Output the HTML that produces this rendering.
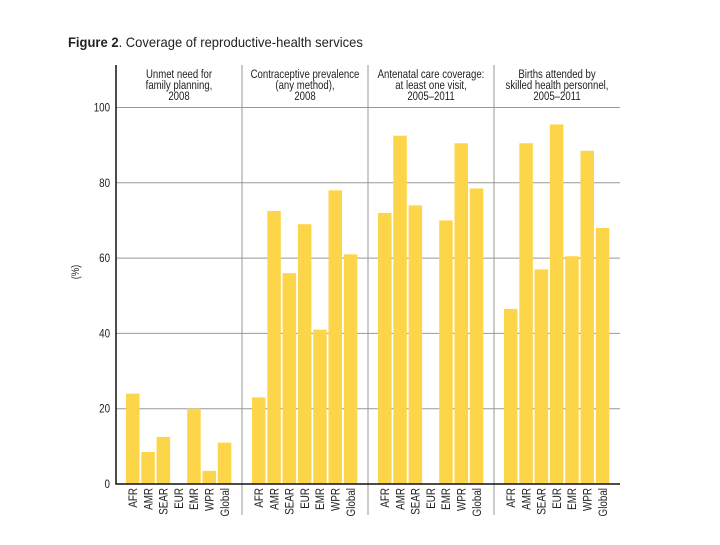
<!DOCTYPE html>
<html><head><meta charset="utf-8"><style>
body{margin:0;background:#fff;}
svg text{font-family:"Liberation Sans",sans-serif;fill:#222;}
</style></head><body>
<svg width="720" height="540" xmlns="http://www.w3.org/2000/svg">
<text x="68" y="47" font-size="14" transform="translate(68,0) scale(0.93,1) translate(-68,0)"><tspan font-weight="bold">Figure 2</tspan>. Coverage of reproductive-health services</text>
<text transform="translate(79,272) rotate(-90) scale(0.85,1)" font-size="11" text-anchor="middle">(%)</text>
<g id="grid"></g><g id="bars"></g><g id="labels"></g>
<script>
const panels=["Unmet need for|family planning,|2008","Contraceptive prevalence|(any method),|2008","Antenatal care coverage:|at least one visit,|2005–2011","Births attended by|skilled health personnel,|2005–2011"];
const regions=["AFR","AMR","SEAR","EUR","EMR","WPR","Global"];
const unmet=[24,8.5,12.5,null,20,3.5,11];
const contraceptive=[23,72.5,56,69,41,78,61];
const antenatal=[72,92.5,74,null,70,90.5,78.5];
const births=[46.5,90.5,57,95.5,60.5,88.5,68];
const yTicks=[0,20,40,60,80,100];
const series=[unmet,contraceptive,antenatal,births];
const ns="http://www.w3.org/2000/svg";
const X0=116,X1=620,PW=126,Y0=484,YS=3.765;
const y=v=>Y0-v*YS;
const g=document.getElementById('grid'),b=document.getElementById('bars'),l=document.getElementById('labels');
function mk(t,a,p){const e=document.createElementNS(ns,t);for(const k in a)e.setAttribute(k,a[k]);p.appendChild(e);return e;}
yTicks.forEach(t=>{if(t>0){const e=mk('line',{x1:X0,x2:X1,y1:y(t),y2:y(t),stroke:'#999','stroke-width':1},g);

}
const tx=mk('text',{transform:`translate(${X0-6},${y(t)+4}) scale(0.85,1)`,'font-size':11.5,'text-anchor':'end'},l);tx.textContent=t;

});
for(let p=1;p<4;p++){const e=mk('line',{x1:X0+p*PW,x2:X0+p*PW,y1:65,y2:515,stroke:'#999','stroke-width':1},g);

}
series.forEach((s,p)=>{
 const px=X0+p*PW;
 panels[p].split('|').forEach((line,i)=>{const t=mk('text',{transform:`translate(${px+PW/2},${78+i*11}) scale(0.8,1)`,'font-size':12,'text-anchor':'middle'},l);t.textContent=line;
 
 });
 s.forEach((v,i)=>{const bx=px+10+i*15.3;
  if(v!==null){const r=mk('rect',{x:bx,y:y(v),width:13.5,height:v*YS,fill:'#fdd548'},b);
  
  }
  const t=mk('text',{transform:`translate(${bx+11},488) rotate(-90) scale(0.82,1)`,'font-size':12,'text-anchor':'end'},l);t.textContent=regions[i];
  
  });
});
const ax=mk('path',{d:`M${X0} 65 V${Y0} H${X1}`,stroke:'#111','stroke-width':1.5,fill:'none'},l);


</script>
</svg></body></html>
